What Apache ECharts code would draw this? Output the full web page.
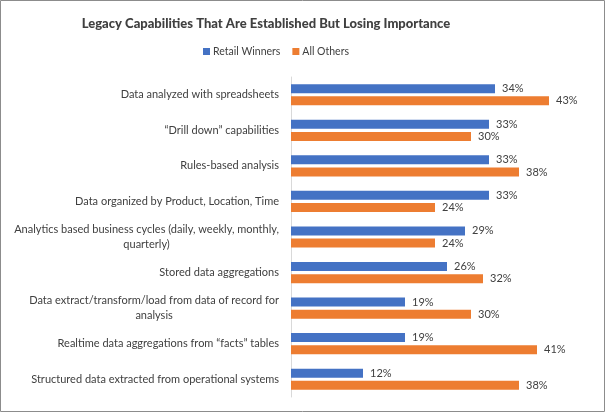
<!DOCTYPE html>
<html><head><meta charset="utf-8">
<script src="https://cdn.jsdelivr.net/npm/echarts@6/dist/echarts.min.js"></script>
<style>html,body{margin:0;padding:0;background:#fff}#c{width:606px;height:413px}</style>
</head><body><div id="c"></div>
<script>
const categories = [
  'Data analyzed with spreadsheets',
  '\u201cDrill down\u201d capabilities',
  'Rules-based analysis',
  'Data organized by Product, Location, Time',
  'Analytics based business cycles (daily, weekly, monthly,\nquarterly)',
  'Stored data aggregations',
  'Data extract/transform/load from data of record for\nanalysis',
  'Realtime data aggregations from \u201cfacts\u201d tables',
  'Structured data extracted from operational systems'
];
const retailWinners = [34, 33, 33, 33, 29, 26, 19, 19, 12];
const allOthers = [43, 30, 38, 24, 24, 32, 30, 41, 38];
const seriesNames = ['Retail Winners', 'All Others'];

const FONT = 'Lato';
const TXT = '#404040';
const chart = echarts.init(document.getElementById('c'));
const lbl = { show: true, position: 'right', distance: 7, formatter: '{c}%', color: TXT, fontFamily: FONT, fontSize: 11 };
chart.setOption({
  animation: false,
  backgroundColor: '#fff',
  graphic: [{ type: 'rect', shape: { x: 0.5, y: 0.5, width: 604, height: 411 }, style: { fill: 'none', stroke: '#8c8c8c', lineWidth: 1 } }],
  title: { text: 'Legacy Capabilities That Are Established But Losing Importance', left: 261, top: 12, textAlign: 'center',
    textStyle: { fontFamily: FONT, fontWeight: 900, fontSize: 13, color: TXT } },
  legend: { data: seriesNames, left: 198, top: 41, itemWidth: 7, itemHeight: 7, itemGap: 12, icon: 'rect',
    textStyle: { fontFamily: FONT, fontSize: 10.5, color: TXT, padding: [0, 0, 0, -2] } },
  grid: { left: 291, top: 77, width: 300, height: 320, containLabel: false },
  xAxis: { type: 'value', min: 0, max: 50, show: false },
  yAxis: { type: 'category', data: categories, inverse: true,
    axisLine: { lineStyle: { color: '#d9d9d9' } }, axisTick: { show: false }, splitLine: { show: false },
    axisLabel: { margin: 12, align: 'right', fontFamily: FONT, fontSize: 11, color: TXT, lineHeight: 15,
      formatter: v => v.split('\n').map(s => '{a|' + s + '}').join('\n'),
      rich: { a: { align: 'center', fontFamily: FONT, fontSize: 11, color: TXT, lineHeight: 15 } } } },
  series: [
    { name: seriesNames[0], type: 'bar', data: retailWinners, barWidth: 9, barGap: '35%', itemStyle: { color: '#4472C4' }, label: lbl },
    { name: seriesNames[1], type: 'bar', data: allOthers, barWidth: 9, barGap: '35%', itemStyle: { color: '#ED7D31' }, label: lbl }
  ]
});
</script></body></html>
